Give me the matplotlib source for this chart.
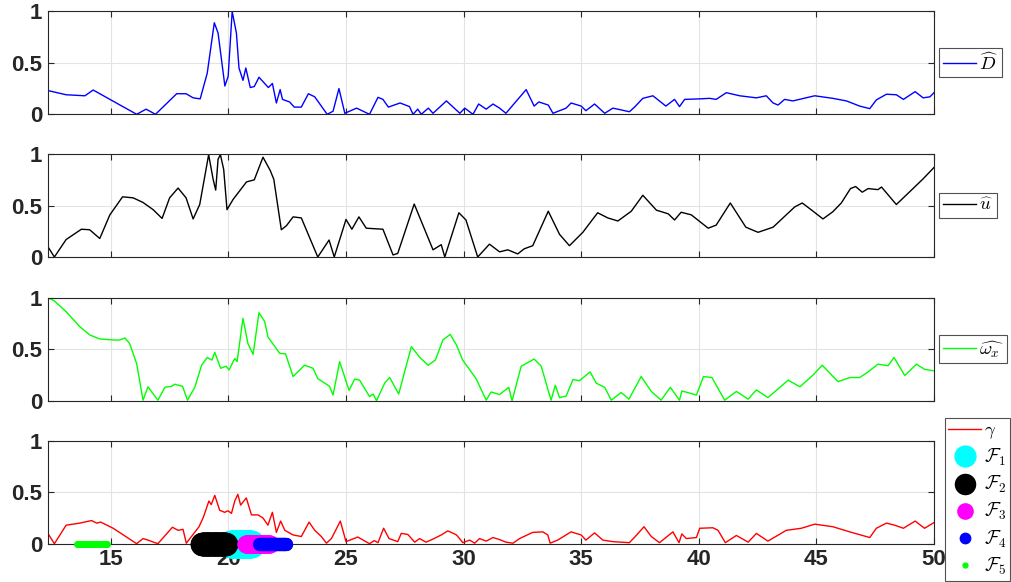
import numpy as np
import matplotlib
matplotlib.use("Agg")
import matplotlib.pyplot as plt
from matplotlib.lines import Line2D

plt.rcParams['mathtext.fontset'] = 'cm'
plt.rcParams['font.family'] = ['Liberation Sans', 'DejaVu Sans']

# D hat
d_x = [12.34, 13.1, 13.9, 14.25, 15.0, 16.1, 16.5, 16.9, 17.8, 18.2, 18.5, 18.8, 19.1, 19.4,
       19.56, 19.85, 19.99, 20.16, 20.34, 20.45, 20.62, 20.74, 20.93, 21.1, 21.3, 21.7, 21.87,
       22.04, 22.2, 22.3, 22.6, 22.8, 23.1, 23.4, 23.67, 24.2, 24.45, 24.7, 24.95, 25.45, 26.0,
       26.36, 26.57, 26.8, 27.3, 27.7, 27.85, 28.05, 28.2, 28.5, 28.7, 29.27, 29.84, 30.05,
       30.4, 30.64, 30.96, 31.25, 31.53, 31.8, 32.66, 33.0, 33.2, 33.6, 33.8, 34.36, 34.57,
       35.0, 35.2, 35.57, 36.0, 36.35, 37.05, 37.27, 37.62, 38.05, 38.6, 38.97, 39.18, 39.4,
       40.04, 40.46, 40.74, 41.17, 41.74, 42.45, 42.87, 43.16, 43.37, 43.65, 44.0, 44.93,
       45.7, 46.28, 46.84, 47.27, 47.55, 47.98, 48.4, 48.7, 49.2, 49.54, 49.83, 50.0]
d_y = [0.23, 0.19, 0.18, 0.236, 0.14, 0.0, 0.05, 0.0, 0.2, 0.2, 0.16, 0.15, 0.4, 0.89,
       0.79, 0.275, 0.37, 1.0, 0.79, 0.45, 0.33, 0.45, 0.26, 0.27, 0.36, 0.26, 0.3,
       0.11, 0.24, 0.145, 0.12, 0.07, 0.07, 0.2, 0.17, 0.0, 0.03, 0.25, 0.01, 0.06, 0.0,
       0.165, 0.145, 0.07, 0.11, 0.075, 0.0, 0.05, 0.0, 0.06, 0.01, 0.13, 0.01, 0.06,
       0.0, 0.1, 0.05, 0.1, 0.06, 0.01, 0.24, 0.08, 0.12, 0.09, 0.01, 0.06, 0.11,
       0.08, 0.035, 0.1, 0.01, 0.06, 0.025, 0.07, 0.155, 0.18, 0.08, 0.145, 0.075, 0.145,
       0.15, 0.155, 0.145, 0.21, 0.18, 0.16, 0.18, 0.11, 0.09, 0.145, 0.13, 0.18,
       0.155, 0.13, 0.08, 0.055, 0.14, 0.195, 0.19, 0.145, 0.22, 0.16, 0.17, 0.21]

# u hat
u_x = [12.34, 12.6, 13.1, 13.75, 14.1, 14.53, 14.96, 15.5, 15.95, 16.37, 16.8, 17.18, 17.5,
       17.86, 18.2, 18.5, 18.78, 19.0, 19.16, 19.35, 19.46, 19.56, 19.66, 19.8, 19.94, 20.2,
       20.77, 21.1, 21.47, 21.78, 21.93, 22.25, 22.47, 22.75, 23.1, 23.8, 24.28, 24.5, 25.0,
       25.25, 25.55, 25.86, 26.57, 27.0, 27.2, 27.9, 28.7, 29.05, 29.2, 29.8, 30.1, 30.6,
       31.1, 31.53, 31.88, 32.3, 32.58, 32.94, 33.6, 34.08, 34.5, 35.07, 35.7, 36.13, 36.56,
       37.13, 37.62, 38.2, 38.7, 38.97, 39.25, 39.68, 40.4, 40.74, 41.34, 42.0, 42.52, 43.16,
       44.08, 44.4, 44.86, 45.28, 45.7, 46.06, 46.45, 46.67, 46.95, 47.2, 47.62, 47.77, 48.4,
       49.04, 49.54, 50.0]
u_y = [0.095, 0.0, 0.17, 0.27, 0.265, 0.18, 0.41, 0.585, 0.575, 0.53, 0.46, 0.375, 0.575,
       0.67, 0.575, 0.37, 0.51, 0.79, 0.995, 0.755, 0.65, 0.95, 0.995, 0.85, 0.46, 0.56,
       0.73, 0.75, 0.97, 0.84, 0.755, 0.265, 0.305, 0.39, 0.38, 0.0, 0.165, 0.0, 0.365,
       0.27, 0.39, 0.28, 0.27, 0.02, 0.035, 0.515, 0.07, 0.12, 0.0, 0.43, 0.36, 0.0,
       0.125, 0.05, 0.07, 0.03, 0.08, 0.11, 0.445, 0.22, 0.11, 0.24, 0.43, 0.38, 0.35,
       0.445, 0.6, 0.455, 0.42, 0.36, 0.435, 0.41, 0.28, 0.31, 0.525, 0.29, 0.24, 0.29,
       0.487, 0.525, 0.445, 0.37, 0.44, 0.525, 0.665, 0.685, 0.63, 0.665, 0.655, 0.68, 0.51,
       0.65, 0.76, 0.87]

# omega_x hat
w_x = [12.34, 12.6, 13.1, 13.68, 14.1, 14.53, 15.1, 15.38, 15.6, 15.8, 16.1, 16.37, 16.58,
       17.0, 17.3, 17.58, 17.72, 18.05, 18.26, 18.57, 18.86, 19.1, 19.3, 19.42, 19.67, 19.9,
       20.03, 20.27, 20.37, 20.62, 20.83, 21.05, 21.3, 21.54, 21.68, 22.18, 22.43, 22.75,
       23.24, 23.6, 23.8, 24.3, 24.45, 24.73, 25.13, 25.37, 25.58, 26.0, 26.15, 26.3, 26.64,
       26.86, 27.24, 27.78, 28.14, 28.49, 28.8, 29.12, 29.43, 29.7, 29.96, 30.53, 30.96,
       31.17, 31.53, 31.92, 32.06, 32.45, 33.0, 33.3, 33.72, 33.9, 34.08, 34.36, 34.65, 34.93,
       35.38, 35.64, 36.0, 36.28, 36.7, 37.03, 37.55, 37.98, 38.4, 38.79, 39.18, 39.28, 39.9,
       40.2, 40.56, 41.1, 41.6, 42.1, 42.45, 42.94, 43.8, 44.3, 44.86, 45.25, 45.92, 46.42,
       46.84, 47.2, 47.62, 48.05, 48.3, 48.76, 49.26, 49.6, 50.0]
w_y = [1.0, 0.97, 0.865, 0.72, 0.64, 0.6, 0.59, 0.59, 0.61, 0.555, 0.36, 0.005, 0.135,
       0.005, 0.13, 0.14, 0.16, 0.14, 0.005, 0.13, 0.345, 0.42, 0.395, 0.47, 0.315, 0.335,
       0.3, 0.41, 0.38, 0.8, 0.555, 0.45, 0.855, 0.77, 0.62, 0.46, 0.455, 0.235,
       0.345, 0.315, 0.215, 0.14, 0.055, 0.38, 0.1, 0.21, 0.2, 0.04, 0.065, 0.0, 0.17,
       0.225, 0.065, 0.525, 0.42, 0.345, 0.395, 0.59, 0.645, 0.54, 0.395, 0.215, 0.005,
       0.085, 0.06, 0.13, 0.0, 0.335, 0.405, 0.335, 0.005, 0.15, 0.03, 0.045, 0.205, 0.195,
       0.28, 0.17, 0.13, 0.005, 0.08, 0.015, 0.235, 0.09, 0.005, 0.13, 0.005, 0.095, 0.055,
       0.235, 0.225, 0.005, 0.09, 0.015, 0.105, 0.03, 0.2, 0.135, 0.25, 0.345, 0.185, 0.225,
       0.225, 0.28, 0.355, 0.34, 0.42, 0.245, 0.355, 0.305, 0.29]

# gamma
g_x = [12.34, 12.6, 13.1, 13.68, 14.18, 14.4, 14.57, 15.1, 16.1, 16.37, 16.58, 17.0, 17.62,
       17.86, 18.07, 18.21, 18.75, 18.94, 19.17, 19.27, 19.42, 19.63, 19.84, 19.98, 20.13,
       20.27, 20.4, 20.52, 20.76, 20.98, 21.26, 21.47, 21.68, 21.87, 22.04, 22.22, 22.4,
       22.75, 23.1, 23.43, 23.67, 23.95, 24.17, 24.38, 24.76, 25.0, 25.5, 26.0, 26.2, 26.36,
       26.6, 26.83, 27.2, 27.35, 27.63, 27.92, 28.13, 28.4, 28.7, 29.05, 29.33, 29.7, 29.97,
       30.26, 30.47, 30.68, 30.96, 31.25, 31.53, 31.8, 32.1, 32.38, 32.94, 33.37, 33.58,
       33.68, 34.0, 34.57, 35.0, 35.2, 35.57, 35.92, 36.35, 37.05, 37.34, 37.67, 37.98, 38.33,
       38.9, 39.16, 39.28, 39.47, 39.9, 40.04, 40.6, 40.82, 41.13, 41.6, 42.1, 42.45, 42.94,
       43.72, 44.36, 44.93, 45.7, 46.42, 47.27, 47.55, 47.98, 48.33, 48.7, 49.2, 49.6, 50.0]
g_y = [0.095, 0.0, 0.18, 0.2, 0.225, 0.2, 0.21, 0.15, 0.0, 0.05, 0.035, 0.0, 0.16,
       0.13, 0.14, 0.005, 0.165, 0.26, 0.415, 0.38, 0.47, 0.325, 0.305, 0.32, 0.295,
       0.415, 0.48, 0.375, 0.445, 0.28, 0.28, 0.25, 0.18, 0.305, 0.11, 0.22, 0.13,
       0.085, 0.07, 0.21, 0.13, 0.07, 0.005, 0.05, 0.22, 0.02, 0.065, 0.0, 0.03, 0.01,
       0.15, 0.05, 0.02, 0.1, 0.09, 0.015, 0.05, 0.015, 0.045, 0.085, 0.125, 0.085, 0.01,
       0.035, 0.005, 0.05, 0.025, 0.06, 0.04, 0.015, 0.005, 0.05, 0.11, 0.115, 0.085,
       0.005, 0.035, 0.115, 0.085, 0.035, 0.105, 0.035, 0.02, 0.01, 0.08, 0.165, 0.07, 0.01,
       0.115, 0.01, 0.095, 0.05, 0.06, 0.15, 0.155, 0.13, 0.01, 0.08, 0.015, 0.1, 0.025,
       0.13, 0.15, 0.19, 0.165, 0.115, 0.06, 0.15, 0.2, 0.18, 0.15, 0.22, 0.15, 0.205]

# flag intervals (start, end) and their marker styling
flag_labels = [r'$\mathcal{F}_1$', r'$\mathcal{F}_2$', r'$\mathcal{F}_3$',
               r'$\mathcal{F}_4$', r'$\mathcal{F}_5$']
flag_start = [20.1, 18.87, 20.74, 21.32, 13.58]
flag_end = [20.96, 19.9, 21.76, 22.47, 14.83]
flag_colors = ['#00ffff', '#000000', '#ff00ff', '#0000ff', '#00ff00']
flag_ms = [20, 17, 13, 9.5, 5]
flag_legend_ms = [16, 15.5, 12, 8.5, 4.5]

x_ticks = [15, 20, 25, 30, 35, 40, 45, 50]
y_ticks = [0, 0.5, 1]
y_ticklabels = ['0', '0.5', '1']
txt_col = '#262626'

fig = plt.figure(figsize=(10.11, 5.82), dpi=100)
left, width, height = 0.0475, 0.8763, 0.1768
bottoms = [0.8036, 0.5584, 0.3115, 0.0658]

series = [(d_x, d_y, '#0000ff', r'$\widehat{D}$'),
          (u_x, u_y, '#000000', r'$\widehat{u}$'),
          (w_x, w_y, '#00ff00', r'$\widehat{\omega_x}$'),
          (g_x, g_y, '#ff0000', r'$\gamma$')]


def style_legend(leg):
    leg.get_frame().set_edgecolor(txt_col)
    leg.get_frame().set_linewidth(0.8)


axes = []
for i, (xs, ys, col, lab) in enumerate(series):
    ax = fig.add_axes([left, bottoms[i], width, height])
    ax.plot(xs, ys, color=col, lw=1.0, label=lab)
    ax.set_xlim(12.33, 50)
    ax.set_ylim(0, 1)
    ax.set_xticks(x_ticks)
    ax.set_yticks(y_ticks)
    ax.set_yticklabels(y_ticklabels)
    ax.grid(True, color='#e3e3e3', lw=0.8)
    ax.set_axisbelow(True)
    ax.tick_params(direction='in', length=4, width=0.8, colors=txt_col,
                   top=True, right=True, labelsize=16, pad=4)
    for lbl in ax.get_xticklabels() + ax.get_yticklabels():
        lbl.set_fontweight('bold')
    for sp in ax.spines.values():
        sp.set_color(txt_col)
        sp.set_linewidth(0.8)
    if i < 3:
        ax.tick_params(labelbottom=False)
        leg = ax.legend(loc='center left', bbox_to_anchor=(1.006, 0.5),
                        fontsize=13.5, frameon=True, fancybox=False,
                        handlelength=1.75, handletextpad=0.15, borderpad=0.2,
                        borderaxespad=0)
        style_legend(leg)
    axes.append(ax)

ax4 = axes[3]
for s, e, c, ms in zip(flag_start, flag_end, flag_colors, flag_ms):
    pts = np.arange(s, e + 0.001, 0.02)
    ax4.plot(pts, np.zeros_like(pts), 'o', color=c, ms=ms, mec='none',
             clip_on=False, zorder=5)

handles = [Line2D([], [], color='#ff0000', lw=1.0)]
for c, ms in zip(flag_colors, flag_legend_ms):
    handles.append(Line2D([], [], ls='none', marker='o', color=c, ms=ms, mec='none'))
leg = ax4.legend(handles, [r'$\gamma$'] + flag_labels, loc='center left',
                 bbox_to_anchor=(1.012, 0.43), fontsize=13.5, frameon=True, fancybox=False,
                 handlelength=1.75, handletextpad=0.15, borderpad=0.2, labelspacing=0.32,
                 borderaxespad=0)
style_legend(leg)

fig.savefig('out.png', dpi=100)
